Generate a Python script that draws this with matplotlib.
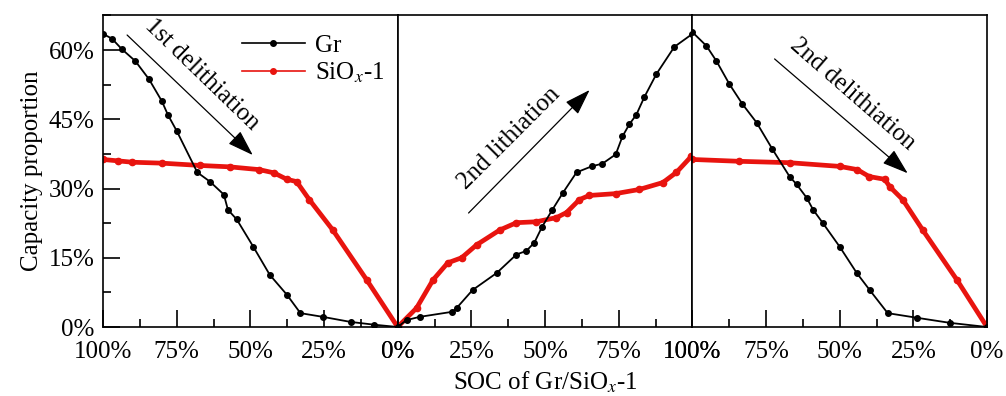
import matplotlib.pyplot as plt
from matplotlib.lines import Line2D
from matplotlib.ticker import MultipleLocator, FuncFormatter

# 1st delithiation (SOC 100 -> 0)
soc1_gr = [100, 97, 93.6, 89, 84.4, 80, 78, 75, 68, 63.7, 59, 57.6, 54.6, 49, 43.4, 37.6, 33, 25.4, 16, 8, 0]
gr1 = [63.5, 62.5, 60.2, 57.6, 53.7, 48.9, 46, 42.5, 33.5, 31.5, 28.7, 25.4, 23.3, 17.4, 11.3, 7, 3, 2.2, 1.1, 0.5, 0]
soc1_si = [100, 95, 90, 80, 67, 57, 47, 42, 37.6, 34.3, 30, 22, 10.5, 0]
si1 = [36.3, 36, 35.7, 35.5, 35, 34.7, 34.1, 33.4, 32, 31.5, 27.6, 21, 10.2, 0]

# 2nd lithiation (SOC 0 -> 100)
soc2_gr = [0, 3, 7.5, 18.6, 20, 25.4, 33.6, 40.3, 43.7, 46.4, 49, 52.5, 56, 60.7, 65.8, 69.5, 74, 76.3,
           78.6, 81, 83.7, 87.8, 93.9, 100]
gr2 = [0, 1.5, 2.2, 3.3, 4.1, 8, 11.7, 15.7, 16.5, 18.3, 21.7, 25.4, 29, 33.5, 34.8, 35.4, 37.4, 41.3,
       43.9, 46, 49.8, 54.8, 60.7, 63.5]
soc2_si = [0, 6.4, 12, 17, 21.7, 26.8, 34.6, 40.3, 47, 53.9, 57.3, 61.7, 65, 74, 82, 90, 94.6, 99.7]
si2 = [0, 4.1, 10.2, 13.9, 15, 17.8, 21, 22.6, 22.8, 23.7, 24.8, 27.6, 28.5, 28.9, 29.8, 31.3, 33.5, 37]

# 2nd delithiation (SOC 100 -> 0)
soc3_gr = [100, 95.2, 91.8, 87.4, 83, 78.2, 72.8, 67, 64.6, 61.2, 59, 55.8, 50, 44.2, 39.8, 33.7, 23.8, 12.6, 0]
gr3 = [63.9, 60.9, 57.6, 52.6, 48.3, 44.3, 38.5, 32.6, 30.9, 28, 25.4, 22.6, 17.4, 11.7, 8, 3, 2, 0.9, 0]
soc3_si = [100, 84, 67, 50, 44, 40, 34.7, 33, 28.6, 21.8, 10.2, 0]
si3 = [36.3, 35.9, 35.6, 34.8, 34.1, 32.6, 32, 30.4, 27.6, 21, 10.2, 0]

plt.rcParams['font.family'] = ['Liberation Serif', 'DejaVu Serif']
plt.rcParams['mathtext.fontset'] = 'stix'
plt.rcParams['font.size'] = 18

fig = plt.figure(figsize=(10.06, 3.96), dpi=100)
W, H = 1006, 396
left, right, top, bottom = 103, 987, 15, 327
pw = (right - left) / 3
axes = []
for i in range(3):
    ax = fig.add_axes([(left + i * pw) / W, (H - bottom) / H, pw / W, (bottom - top) / H])
    axes.append(ax)

pct = FuncFormatter(lambda v, p: f"{v:.0f}%")
panels = [(soc1_gr, gr1, soc1_si, si1, (100, 0)),
          (soc2_gr, gr2, soc2_si, si2, (0, 100)),
          (soc3_gr, gr3, soc3_si, si3, (100, 0))]

red = '#e8140f'
for i, (ax, (sg, g, ss, s, xl)) in enumerate(zip(axes, panels)):
    ax.plot(ss, s, '-o', color=red, lw=3.4, ms=4.5, zorder=2)
    ax.plot(sg, g, '-o', color='black', lw=1.3, ms=4, zorder=3)
    ax.set_xlim(*xl)
    ax.set_ylim(0, 67.6)
    ax.xaxis.set_major_locator(MultipleLocator(25))
    ax.xaxis.set_minor_locator(MultipleLocator(12.5))
    ax.xaxis.set_major_formatter(pct)
    ax.tick_params(axis='x', which='major', direction='in', length=12, width=1.2, pad=10, top=False)
    ax.tick_params(axis='x', which='minor', direction='in', length=6, width=1.2, top=False)
    for sp in ax.spines.values():
        sp.set_linewidth(1.2)
    if i == 0:
        ax.yaxis.set_major_locator(MultipleLocator(15))
        ax.yaxis.set_minor_locator(MultipleLocator(7.5))
        ax.yaxis.set_major_formatter(pct)
        ax.tick_params(axis='y', which='major', direction='in', length=12, width=1.2, pad=6, right=False)
        ax.tick_params(axis='y', which='minor', direction='in', length=6, width=1.2, right=False)
        ax.set_ylabel("Capacity proportion", labelpad=4)
    else:
        ax.set_yticks([])
        ax.tick_params(axis='y', which='both', left=False, right=False)

# legend
handles = [Line2D([], [], color='black', lw=1.2, marker='o', ms=4),
           Line2D([], [], color=red, lw=1.2, marker='o', ms=4)]
axes[0].legend(handles, ["Gr", "SiO$_x$-1"], loc='upper right', bbox_to_anchor=(1.03, 1.01),
               frameon=False, handlelength=2.5, handletextpad=0.4, labelspacing=0.15)

# arrows and annotations
arr = dict(arrowstyle='-|>,head_length=0.9,head_width=0.3', color='black', lw=0.9)
axes[0].annotate('', xy=(0.515, 0.545), xytext=(0.075, 0.942), xycoords='axes fraction', arrowprops=arr)
axes[0].text(0.335, 0.81, "1st delithiation", transform=axes[0].transAxes, rotation=-44,
             ha='center', va='center', rotation_mode='anchor')
axes[1].annotate('', xy=(0.658, 0.766), xytext=(0.234, 0.359), xycoords='axes fraction', arrowprops=arr)
axes[1].text(0.38, 0.605, "2nd lithiation", transform=axes[1].transAxes, rotation=45,
             ha='center', va='center', rotation_mode='anchor')
axes[2].annotate('', xy=(0.738, 0.487), xytext=(0.272, 0.865), xycoords='axes fraction', arrowprops=arr)
axes[2].text(0.545, 0.745, "2nd delithiation", transform=axes[2].transAxes, rotation=-41,
             ha='center', va='center', rotation_mode='anchor')

fig.text((left + right) / 2 / W, 1 - 390 / H, "SOC of Gr/SiO$_x$-1", ha='center', va='baseline')

fig.savefig("out.png", dpi=100)
